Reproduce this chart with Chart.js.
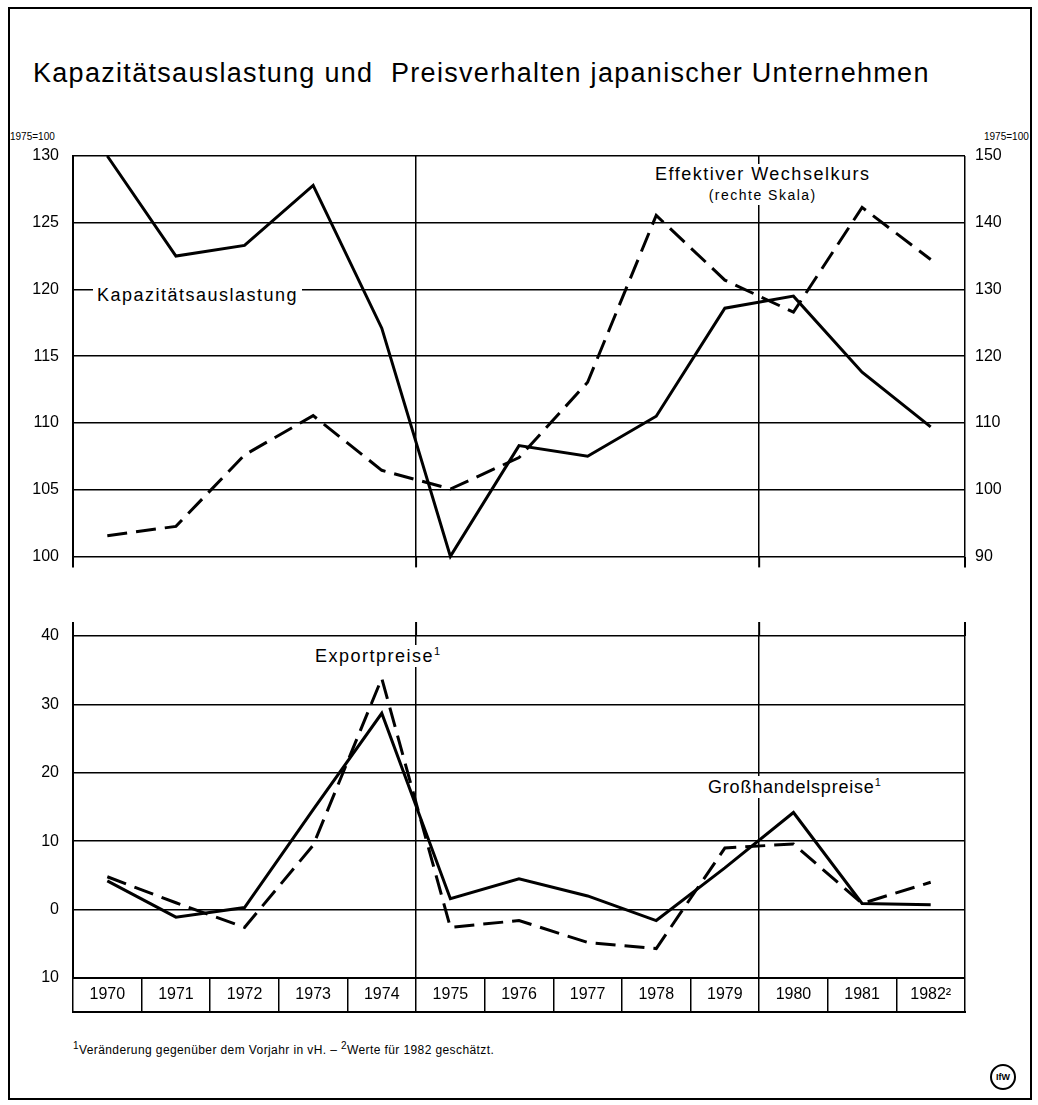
<!DOCTYPE html>
<html lang="de">
<head>
<meta charset="UTF-8">
<title>Kapazitätsauslastung und Preisverhalten japanischer Unternehmen</title>
<script src="https://cdn.jsdelivr.net/npm/chart.js"></script>
<style>
  body { margin: 0; background: #fff; }
  #page { position: relative; width: 1038px; height: 1105px; font-family: "Liberation Sans", Arial, sans-serif; color: #000; }
  .abs { position: absolute; white-space: nowrap; }
  .lbl { background: #fff; padding: 0 4px; font-size: 18px; letter-spacing: 1.5px; }
</style>
</head>
<body>
<div id="page">
  <div class="abs" style="left:8px; top:7px; width:1020px; height:1089px; border:2px solid #000;"></div>

  <div class="abs" style="left:33px; top:58px; font-size:27px; letter-spacing:1.3px;">Kapazitätsauslastung und&nbsp; Preisverhalten japanischer Unternehmen</div>

  <div class="abs" style="left:10px; top:131px; font-size:10px;">1975=100</div>
  <div class="abs" style="left:984px; top:131px; font-size:10px;">1975=100</div>

  <canvas id="oben" class="abs" style="left:0; top:130px;"></canvas>
  <canvas id="unten" class="abs" style="left:0; top:600px;"></canvas>

  <!-- Beschriftungen im Diagramm -->
  <div class="abs lbl" style="left:93px; top:285px;">Kapazitätsauslastung</div>
  <div class="abs lbl" style="left:651px; top:164px; line-height:20px; text-align:center;">Effektiver Wechselkurs<br><span style="font-size:14px;">(rechte Skala)</span></div>
  <div class="abs lbl" style="left:311px; top:645px;">Exportpreise<sup style="font-size:11px;">1</sup></div>
  <div class="abs lbl" style="left:704px; top:776px; letter-spacing:0.8px;">Großhandelspreise<sup style="font-size:11px;">1</sup></div>

  <div class="abs" style="left:73px; top:1040px; font-size:12px; letter-spacing:0.4px;"><sup style="font-size:10px;">1</sup>Veränderung gegenüber dem Vorjahr in vH. – <sup style="font-size:10px;">2</sup>Werte für 1982 geschätzt.</div>

  <div class="abs" style="left:990px; top:1064px; width:22px; height:22px; border:2px solid #000; border-radius:50%; font-size:9px; font-weight:bold; line-height:22px; text-align:center;">IfW</div>
</div>

<script>
// Daten
const jahre = ['1970', '1971', '1972', '1973', '1974', '1975', '1976', '1977', '1978', '1979', '1980', '1981', '1982²'];
const kapazitaet = [130.0, 122.5, 123.3, 127.8, 117.1, 100.0, 108.3, 107.5, 110.5, 118.6, 119.5, 113.8, 109.7];
const wechselkurs = [93.1, 94.5, 105.2, 111.1, 102.9, 100.1, 104.8, 116.1, 141.1, 131.4, 126.6, 142.3, 134.5];
const grosshandel = [4.2, -1.1, 0.3, 14.6, 28.7, 1.6, 4.5, 2.0, -1.6, 6.1, 14.2, 0.9, 0.7];
const exportpreise = [4.8, 1.0, -2.6, 9.4, 33.8, -2.6, -1.6, -4.8, -5.7, 9.0, 9.6, 0.9, 4.0];
const untenTicks = ['10', '0', '10', '20', '30', '40'];

const schrift = "'Liberation Sans', Arial, sans-serif";
const schwarz = '#000';

// vertikale Linien nur an den Grenzen 1974/75 und 1979/80 sowie am rechten Rand
function vertikal(c) {
    return (c.index === 5 || c.index === 10 || c.index === undefined) ? schwarz : 'rgba(0,0,0,0)';
}

function linie(data, gestrichelt, achse) {
    return {
        data: data,
        yAxisID: achse,
        borderColor: schwarz,
        borderWidth: 3,
        borderDash: gestrichelt ? [20, 9] : [],
        pointRadius: 0,
        tension: 0,
        fill: false,
        clip: false
    };
}

// senkrechte Rahmenlinien etwas über den Diagrammbereich hinaus verlängern
function verlaengern(oben, unten) {
    return {
        id: 'verlaengern',
        afterDraw(chart) {
            const a = chart.chartArea;
            const x = chart.scales.x;
            const n = jahre.length;
            const breite = (x.getPixelForValue(n - 1) - x.getPixelForValue(0)) / (n - 1);
            const ctx = chart.ctx;
            ctx.save();
            ctx.strokeStyle = schwarz;
            ctx.lineWidth = 2;
            [0, 5, 10, n].forEach(i => {
                const px = x.getPixelForValue(0) + (i - 0.5) * breite;
                ctx.beginPath();
                ctx.moveTo(px, a.top - oben);
                ctx.lineTo(px, a.top);
                ctx.moveTo(px, a.bottom);
                ctx.lineTo(px, a.bottom + unten);
                ctx.stroke();
            });
            ctx.restore();
        }
    };
}

// oberes Diagramm
const c1 = document.getElementById('oben');
c1.width = 1038; c1.height = 450;
new Chart(c1, {
    type: 'line',
    data: {
        labels: jahre,
        datasets: [
            linie(kapazitaet, false, 'y'),
            linie(wechselkurs, true, 'y1')
        ]
    },
    options: {
        responsive: false,
        animation: false,
        layout: { padding: { top: 26, left: 0, right: 0, bottom: 0 } },
        plugins: { legend: { display: false }, tooltip: { enabled: false } },
        scales: {
            x: {
                offset: true,
                grid: { offset: true, color: vertikal, lineWidth: 1.5, drawTicks: false },
                border: { display: false },
                ticks: { display: false },
                afterFit: s => { s.height = 14; }
            },
            y: {
                position: 'left',
                min: 100, max: 130,
                ticks: { stepSize: 5, color: schwarz, padding: 14, font: { family: schrift, size: 16 } },
                grid: { color: schwarz, lineWidth: 1.5, drawTicks: false },
                border: { display: true, color: schwarz, width: 2 },
                afterFit: s => { s.width = 73; }
            },
            y1: {
                position: 'right',
                min: 90, max: 150,
                ticks: { stepSize: 10, color: schwarz, padding: 10, font: { family: schrift, size: 16 } },
                grid: { display: false, drawTicks: false },
                border: { display: false },
                afterFit: s => { s.width = 73; }
            }
        }
    },
    plugins: [verlaengern(0, 11)]
});

// unteres Diagramm mit Jahreskästen
const kastenUnten = {
    id: 'kastenUnten',
    afterDraw(chart) {
        const a = chart.chartArea;
        const ctx = chart.ctx;
        ctx.save();
        ctx.strokeStyle = schwarz;
        ctx.lineWidth = 2;
        ctx.beginPath();
        ctx.moveTo(a.left - 1, a.bottom + 34);
        ctx.lineTo(a.right + 1, a.bottom + 34);
        ctx.stroke();
        ctx.restore();
    }
};

const c2 = document.getElementById('unten');
c2.width = 1038; c2.height = 420;
new Chart(c2, {
    type: 'line',
    data: {
        labels: jahre,
        datasets: [
            linie(grosshandel, false, 'y'),
            linie(exportpreise, true, 'y')
        ]
    },
    options: {
        responsive: false,
        animation: false,
        layout: { padding: { top: 36, left: 0, right: 73, bottom: 0 } },
        plugins: { legend: { display: false }, tooltip: { enabled: false } },
        scales: {
            x: {
                offset: true,
                grid: { offset: true, color: vertikal, lineWidth: 1.5, drawTicks: true, tickLength: 34, tickColor: schwarz, tickWidth: 1.5 },
                border: { display: true, color: schwarz, width: 2 },
                ticks: { color: schwarz, padding: -27, maxRotation: 0, autoSkip: false, font: { family: schrift, size: 16 } },
                afterFit: s => { s.height = 42; }
            },
            y: {
                position: 'left',
                min: -10, max: 40,
                ticks: {
                    stepSize: 10, color: schwarz, padding: 14,
                    font: { family: schrift, size: 16 },
                    callback: (v, i) => untenTicks[i]
                },
                grid: { color: schwarz, lineWidth: 1.5, drawTicks: false },
                border: { display: true, color: schwarz, width: 2 },
                afterFit: s => { s.width = 73; }
            }
        }
    },
    plugins: [kastenUnten, verlaengern(14, 0)]
});
</script>
</body>
</html>
